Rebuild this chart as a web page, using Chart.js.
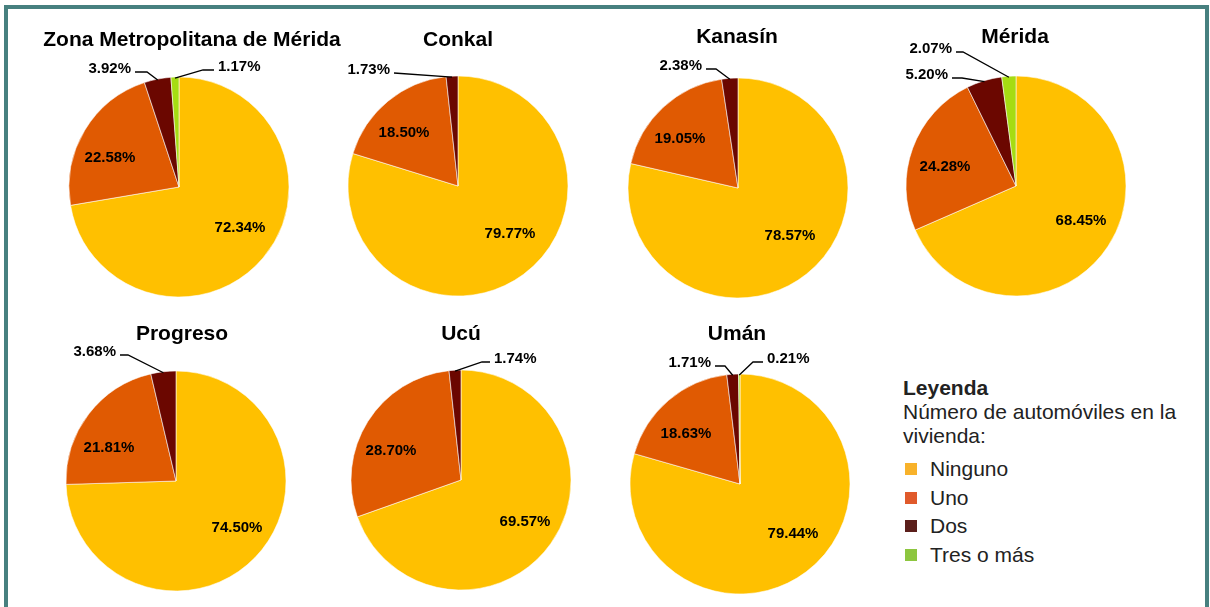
<!DOCTYPE html>
<html>
<head>
<meta charset="utf-8">
<script src="https://cdn.jsdelivr.net/npm/chart.js@4.4.1/dist/chart.umd.min.js"></script>
<style>
  html, body { margin: 0; padding: 0; background: #fff; width: 1210px; height: 607px; overflow: hidden; position: relative; font-family: "Liberation Sans", Arial, sans-serif; }
  #frame { position: absolute; left: 4px; top: 5px; width: 1205px; height: 700px; box-sizing: border-box; border: 4px solid #47807f; border-bottom: none; }
  .pie { position: absolute; width: 300px; height: 300px; }
  .ttl { position: absolute; width: 400px; text-align: center; font-weight: bold; font-size: 21px; line-height: 24px; color: #000; }
  #legend { position: absolute; left: 903px; top: 376px; color: #222; font-size: 21px; line-height: 24px; }
  #legend .hd { font-weight: bold; }
  #legend .item { position: relative; height: 28.7px; line-height: 28.7px; padding-left: 27px; }
  #legend .sw { position: absolute; left: 2px; top: 8px; width: 12px; height: 12px; }
</style>
</head>
<body>
<div id="frame"></div>
<div id="stage"></div>
<div id="legend">
  <div class="hd">Leyenda</div>
  <div>Número de automóviles en la</div>
  <div style="margin-bottom:7px">vivienda:</div>
  <div id="items"></div>
</div>
<script>
// ---- data ----
const categories = ['Ninguno', 'Uno', 'Dos', 'Tres o más'];
const chartTitles = ['Zona Metropolitana de Mérida', 'Conkal', 'Kanasín', 'Mérida', 'Progreso', 'Ucú', 'Umán'];
const zonaMetropolitana = [72.34, 22.58, 3.92, 1.17];
const conkal = [79.77, 18.50, 1.73];
const kanasin = [78.57, 19.05, 2.38];
const merida = [68.45, 24.28, 5.20, 2.07];
const progreso = [74.50, 21.81, 3.68];
const ucu = [69.57, 28.70, 1.74];
const uman = [79.44, 18.63, 1.71, 0.21];
const seriesList = [zonaMetropolitana, conkal, kanasin, merida, progreso, ucu, uman];

// ---- styles / layout ----
const sliceColors = ['#FFC000', '#E05A02', '#6B0700', '#A6DC12'];
const legendColors = ['#F8B22A', '#E05A2B', '#5B1F1B', '#8DC63F'];
const layout = [
  { cx: 179, cy: 187, r: 110, tx: 192, ty: 39,
    inside: [[0, 61, 41], [1, -69, -29]],
    outside: [[2, -32, -115, 12, 'left'], [3, 24, -117, 11, 'right']] },
  { cx: 458, cy: 186, r: 110, tx: 458, ty: 39,
    inside: [[0, 52, 48], [1, -54, -53]],
    outside: [[2, -64, -113, 0, 'left']] },
  { cx: 738, cy: 188, r: 110, tx: 737, ty: 36,
    inside: [[0, 52, 48], [1, -58, -49]],
    outside: [[2, -22, -119, 10, 'left']] },
  { cx: 1016, cy: 186, r: 110, tx: 1015, ty: 36,
    inside: [[0, 65, 35], [1, -71, -19]],
    outside: [[3, -53, -134, 7, 'left'], [2, -54, -108, 10, 'left']] },
  { cx: 176, cy: 481, r: 110, tx: 182, ty: 333,
    inside: [[0, 61, 47], [1, -67, -33]],
    outside: [[2, -48, -126, 8, 'left']] },
  { cx: 461, cy: 480, r: 110, tx: 461, ty: 333,
    inside: [[0, 64, 42], [1, -70, -29]],
    outside: [[2, 21, -118, 8, 'right']] },
  { cx: 740, cy: 484, r: 110, tx: 737, ty: 333,
    inside: [[0, 53, 50], [1, -54, -50]],
    outside: [[2, -15, -118, 10, 'left'], [3, 13, -122, 10, 'right']] }
];

const FONT = '"Liberation Sans", Arial, sans-serif';

const pieLabels = {
  id: 'pieLabels',
  afterDatasetsDraw(chart, args, opts) {
    const ctx = chart.ctx;
    const meta = chart.getDatasetMeta(0);
    const data = chart.data.datasets[0].data;
    const fmt = v => v.toFixed(2) + '%';
    ctx.save();
    ctx.font = 'bold 15px ' + FONT;
    ctx.fillStyle = '#000';
    ctx.textBaseline = 'middle';
    const c = meta.data[0].getProps(['x', 'y']);
    (opts.inside || []).forEach(([i, dx, dy]) => {
      ctx.textAlign = 'center';
      ctx.fillText(fmt(data[i]), c.x + dx, c.y + dy);
    });
    (opts.outside || []).forEach(([i, ex, ey, hl, side]) => {
      const a = meta.data[i].getProps(['x', 'y', 'startAngle', 'endAngle', 'outerRadius']);
      const mid = (a.startAngle + a.endAngle) / 2;
      const px = a.x + Math.cos(mid) * (a.outerRadius - 1);
      const py = a.y + Math.sin(mid) * (a.outerRadius - 1);
      const bx = a.x + ex, by = a.y + ey;
      const dir = side === 'left' ? -1 : 1;
      const hx = bx + dir * hl;
      ctx.beginPath();
      ctx.strokeStyle = '#000';
      ctx.lineWidth = 1.3;
      ctx.moveTo(px, py);
      ctx.lineTo(bx, by);
      ctx.lineTo(hx, by);
      ctx.stroke();
      ctx.textAlign = side === 'left' ? 'right' : 'left';
      ctx.fillText(fmt(data[i]), hx + dir * 4, by - 3.5);
    });
    ctx.restore();
  }
};

const stage = document.getElementById('stage');
seriesList.forEach((vals, k) => {
  const L = layout[k];
  const box = document.createElement('div');
  box.className = 'pie';
  box.style.left = (L.cx - 150) + 'px';
  box.style.top = (L.cy - 150) + 'px';
  const cv = document.createElement('canvas');
  box.appendChild(cv);
  stage.appendChild(box);

  const t = document.createElement('div');
  t.className = 'ttl';
  t.textContent = chartTitles[k];
  t.style.left = (L.tx - 200) + 'px';
  t.style.top = (L.ty - 12) + 'px';
  stage.appendChild(t);

  new Chart(cv, {
    type: 'pie',
    data: {
      labels: categories.slice(0, vals.length),
      datasets: [{
        data: vals,
        backgroundColor: sliceColors.slice(0, vals.length),
        borderColor: 'rgba(255,255,255,0.7)',
        borderWidth: 0.8,
        radius: L.r
      }]
    },
    options: {
      responsive: true,
      maintainAspectRatio: false,
      animation: false,
      events: [],
      layout: { padding: 0 },
      plugins: {
        legend: { display: false },
        tooltip: { enabled: false },
        title: { display: false },
        pieLabels: { inside: L.inside, outside: L.outside }
      }
    },
    plugins: [pieLabels]
  });
});

const items = document.getElementById('items');
categories.forEach((name, i) => {
  const d = document.createElement('div');
  d.className = 'item';
  const s = document.createElement('span');
  s.className = 'sw';
  s.style.background = legendColors[i];
  d.appendChild(s);
  d.appendChild(document.createTextNode(name));
  items.appendChild(d);
});
</script>
</body>
</html>
